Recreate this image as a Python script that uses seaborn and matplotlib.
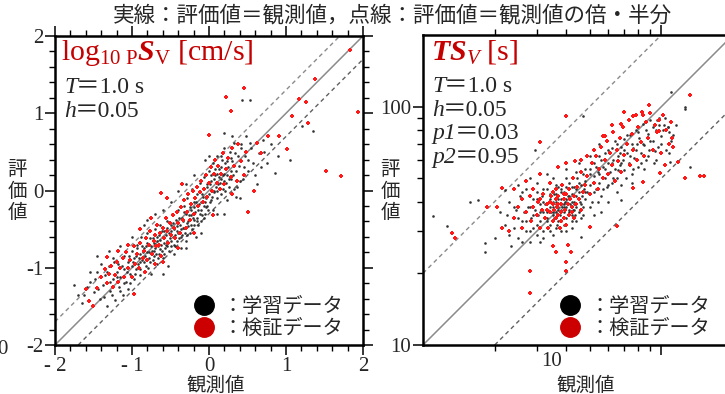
import matplotlib
matplotlib.use("Agg")
import matplotlib.pyplot as plt
from matplotlib.lines import Line2D
import seaborn as sns
import pandas as pd

# ---------------- data ----------------
title_text = "実線：評価値＝観測値，点線：評価値＝観測値の倍・半分"
legend_labels = ["：学習データ", "：検証データ"]
left_xticks = [-2, -1, 0, 1, 2]
left_xticklabels = ["- 2", "- 1", "0", "1", "2"]
left_yticklabels = ["-2", "-1", "0", "1", "2"]
right_yticks = [10, 100]
right_yticklabels = ["10", "100"]
left_params = [("T", "＝1.0 s"), ("h", "＝0.05")]
right_params = [("T", "＝1.0 s"), ("h", "＝0.05"), ("p1", "＝0.03"), ("p2", "＝0.95")]

# left panel: log10 pSv, (observed, predicted)
left_train = [
    (-1.75,-1.22),(-1.62,-1.35),(-1.55,-1.18),(-1.5,-1.32),(-1.45,-1.05),(-1.42,-1.4),(-1.38,-1.22),(-1.35,-1.1),
    (-1.32,-1.5),(-1.3,-0.98),(-1.28,-1.3),(-1.25,-1.15),(-1.22,-1.42),(-1.2,-1.05),(-1.18,-0.95),(-1.17,-1.25),
    (-1.15,-1.12),(-1.12,-1.35),(-1.1,-0.85),(-1.1,-1.02),(-1.08,-1.18),(-1.05,-0.92),(-1.05,-1.28),(-1.03,-1.08),
    (-1.0,-0.78),(-1.0,-0.98),(-0.98,-1.15),(-0.97,-0.88),(-0.95,-1.02),(-0.94,-0.7),(-0.92,-0.95),(-0.9,-1.1),
    (-0.9,-0.82),(-0.88,-0.6),(-0.87,-0.9),(-0.85,-1.05),(-0.85,-0.75),(-0.83,-0.85),(-0.82,-0.98),(-0.8,-0.68),
    (-0.8,-0.55),(-0.78,-0.8),(-0.77,-0.92),(-0.75,-0.72),(-0.75,-1.08),(-0.73,-0.62),(-0.72,-0.85),(-0.7,-0.5),
    (-0.7,-0.75),(-0.68,-0.95),(-0.67,-0.66),(-0.65,-0.58),(-0.65,-0.82),(-0.63,-0.45),(-0.62,-0.7),(-0.6,-0.88),
    (-0.6,-0.6),(-0.58,-0.52),(-0.57,-0.75),(-0.55,-0.4),(-0.55,-0.65),(-0.53,-0.98),(-0.52,-0.55),(-0.5,-0.72),
    (-0.5,-0.45),(-0.48,-0.3),(-0.47,-0.6),(-0.45,-0.82),(-0.45,-0.5),(-0.43,-0.38),(-0.42,-0.65),(-0.4,-0.25),
    (-0.4,-0.55),(-0.38,-0.45),(-0.37,-0.75),(-0.35,-0.35),(-0.35,-0.58),(-0.33,-0.2),(-0.32,-0.48),(-0.3,-0.65),
    (-0.3,-0.3),(-0.28,-0.1),(-0.27,-0.4),(-0.25,-0.55),(-0.25,-0.22),(-0.23,-0.32),(-0.22,0.02),(-0.2,-0.45),
    (-0.2,-0.15),(-0.18,-0.28),(-0.17,-0.6),(-0.15,-0.05),(-0.15,-0.35),(-0.13,-0.18),(-0.12,0.1),(-0.1,-0.25),
    (-0.1,-0.4),(-0.08,-0.08),(-0.07,0.18),(-0.05,-0.15),(-0.05,-0.3),(-0.03,0.05),(-0.02,-0.2),(0.0,0.25),
    (0.0,-0.05),(0.02,-0.12),(0.03,0.12),(0.05,-0.25),(0.05,0.35),(0.07,0.0),(0.08,0.2),(0.1,-0.1),
    (0.1,0.45),(0.12,0.08),(0.13,0.28),(0.15,-0.05),(0.15,0.15),(0.17,0.4),(0.18,0.02),(0.2,0.22),
    (0.2,0.55),(0.22,0.1),(0.23,-0.12),(0.25,0.3),(0.27,0.5),(0.28,0.15),(0.3,0.38),(0.32,0.02),
    (0.33,0.62),(0.35,0.25),(0.38,0.45),(0.4,0.12),(0.42,0.55),(0.45,0.3),(0.48,0.7),(0.5,0.4),
    (0.55,0.55),(0.6,0.2),(0.65,0.48),(0.7,0.65),(0.75,0.35),(0.86,0.23),(1.05,0.39),(1.21,0.83),
    (1.35,0.77),(0.43,1.17),(0.53,1.17),(-0.3,0.08),(-0.5,-0.15),(-0.7,-0.3),(-0.85,-0.45),(-1.0,-0.6),
    (-1.15,-0.72),(-1.25,-0.88),(-1.4,-0.95),(-0.6,-1.08),(0.35,-0.08),(0.2,-0.3),
    (-0.95,-0.85),(-0.9,-0.92),(-0.86,-0.8),(-0.82,-0.72),(-0.78,-0.88),(-0.74,-0.78),(-0.71,-0.68),(-0.69,-0.82),
    (-0.66,-0.72),(-0.64,-0.64),(-0.61,-0.78),(-0.59,-0.68),(-0.56,-0.58),(-0.54,-0.72),(-0.51,-0.62),(-0.49,-0.52),
    (-0.46,-0.7),(-0.44,-0.58),(-0.41,-0.46),(-0.39,-0.62),(-0.36,-0.5),(-0.34,-0.4),(-0.31,-0.55),(-0.29,-0.42),
    (-0.26,-0.32),(-0.24,-0.45),(-0.21,-0.35),(-0.19,-0.22),(-0.16,-0.4),(-0.14,-0.25),(-0.11,-0.15),(-0.09,-0.32),
    (-0.06,-0.2),(-0.04,-0.1),(-0.01,-0.25),(0.01,0.08),(0.04,-0.08),(0.06,0.15),(0.09,0.05),(0.11,0.22),
    (0.14,0.1),(0.16,0.3),(0.19,0.12),(0.21,0.35),(0.24,0.2),(0.26,0.05),(0.29,0.25),
    (-1.65,-1.45),(-1.58,-1.25),(-1.48,-1.15),(-1.44,-1.28),(-1.36,-1.38),(-1.33,-1.05),(-1.29,-1.18),(-1.26,-1.35),
    (-1.23,-0.92),(-1.19,-1.12),(-1.16,-1.3),(-1.13,-0.98),(-1.11,-1.2),(-1.07,-1.05),(-1.04,-0.85),(-1.02,-1.2),
    (-0.99,-0.92),(-0.96,-1.08),(-0.93,-0.75),(-0.91,-0.88),(-0.89,-1.02),(-0.87,-0.72),(-0.84,-0.92),(-0.81,-0.8),
    (-0.79,-1.0),(-0.76,-0.62),(-0.73,-0.9),(-0.71,-0.78),(-0.68,-0.6),(-0.66,-0.88),(-0.63,-0.76),(-0.61,-0.52),
    (-0.58,-0.82),(-0.56,-0.7),(-0.54,-0.48),(-0.52,-0.78),(-0.49,-0.65),(-0.47,-0.42),(-0.44,-0.72),(-0.42,-0.52),
    (-0.39,-0.35),(-0.37,-0.6),(-0.34,-0.48),(-0.32,-0.28),(-0.29,-0.58),(-0.27,-0.46),(-0.24,-0.25),(-0.22,-0.5),
    (-0.19,-0.38),(-0.17,-0.15),(-0.14,-0.45),(-0.12,-0.3),(-0.09,-0.05),(-0.07,-0.35),(-0.04,-0.22),(-0.02,0.08),
    (0.01,-0.15),(0.03,0.2),(0.06,-0.02),(0.08,0.28),(0.11,0.0),(0.13,0.18),(0.16,0.45),(0.18,0.2),
    (0.21,0.0),(0.23,0.38),(0.26,0.15),(0.28,0.42),(0.31,0.2),(0.34,0.48),(0.36,0.05),(0.39,0.32),
    (0.41,0.6),(0.44,0.15),(0.47,0.45),(0.5,0.25),(0.53,0.62),(0.57,0.35),(0.62,0.08),(0.68,0.3),
    (0.72,0.5),(0.8,0.6),(0.9,0.45),(-1.55,-1.05),(-1.7,-1.35),(-0.3,-0.75),(-0.1,-0.55),(0.1,-0.3),
    (0.4,-0.1),(-0.8,-0.38),(-0.6,-0.25),(-0.4,0.0),(-0.2,0.2),(0.0,0.45),(-1.3,-0.78),(-1.45,-0.85),
    (0.3,0.7),(0.2,0.75),(-0.05,0.4),
]
left_test = [
    (-1.56,-1.43),(-1.51,-1.49),(-1.6,-1.28),(-1.45,-1.26),(-1.32,-0.86),(-0.98,-1.34),(-0.62,-0.03),(0.0,0.72),
    (-1.4,-1.12),(-1.35,-1.02),(-1.33,-1.2),(-1.3,-1.08),(-1.27,-0.98),(-1.25,-1.25),(-1.22,-1.1),(-1.2,-0.92),
    (-1.18,-1.18),(-1.15,-1.0),(-1.12,-0.88),(-1.1,-1.12),(-1.08,-0.8),(-1.05,-1.0),(-1.02,-0.9),(-1.0,-1.12),
    (-0.98,-0.72),(-0.96,-0.95),(-0.93,-0.82),(-0.91,-1.0),(-0.89,-0.68),(-0.86,-0.88),(-0.84,-0.78),(-0.82,-0.62),
    (-0.8,-0.9),(-0.78,-0.7),(-0.76,-0.52),(-0.74,-0.82),(-0.72,-0.65),(-0.7,-0.58),(-0.69,-0.72),(-0.67,-0.45),
    (-0.65,-0.7),(-0.63,-0.55),(-0.62,-0.85),(-0.6,-0.48),(-0.58,-0.62),(-0.56,-0.35),(-0.55,-0.52),(-0.53,-0.68),
    (-0.51,-0.42),(-0.49,-0.58),(-0.47,-0.32),(-0.45,-0.48),(-0.44,-0.62),(-0.42,-0.28),(-0.4,-0.42),(-0.38,-0.55),
    (-0.36,-0.22),(-0.34,-0.38),(-0.32,-0.12),(-0.3,-0.48),(-0.28,-0.28),(-0.27,-0.05),(-0.25,-0.38),(-0.23,-0.18),
    (-0.21,0.0),(-0.2,-0.3),(-0.18,-0.1),(-0.16,0.05),(-0.14,-0.2),(-0.12,-0.02),(-0.1,0.12),(-0.08,-0.15),
    (-0.06,0.02),(-0.04,0.2),(-0.02,-0.08),(0.0,0.1),(0.02,0.3),(0.04,0.0),(0.06,0.22),(0.08,0.4),
    (0.1,0.1),(0.12,0.32),(0.14,0.02),(0.16,0.22),(0.18,0.48),(0.2,0.08),(0.22,0.28),(0.25,0.42),
    (0.28,0.18),(0.3,0.55),(0.33,0.32),(0.36,0.12),(0.38,0.6),(0.42,0.38),(0.45,0.2),(0.48,0.5),
    (0.51,-0.28),(0.58,0.0),(0.62,0.62),(0.68,0.48),(0.77,0.7),(0.91,0.7),(1.01,0.54),(1.52,0.25),
    (1.71,0.19),(1.83,1.82),(1.38,1.44),(0.45,1.33),(0.22,1.21),(0.29,1.03),(1.17,1.18),(1.26,1.14),
    (1.93,1.01),(1.08,0.97),(1.29,0.88),(-0.9,-0.5),(-0.75,-0.35),(-0.55,-0.1),(-0.35,0.08),(-0.6,-0.92),
    (-0.4,-0.75),(-0.2,-0.55),(0.05,-0.32),(0.3,-0.05),(-1.18,-0.78),(-1.05,-0.7),(-0.83,-1.05),(-0.7,-0.95),
]

# right panel: TSv [s], (observed, predicted)
right_train = [
    (22.5,35),(23,40),(24,31),(24.5,37),(25,28),(25.5,42),(26,33),(26.5,36),(27,30),(27,45),(27.5,38),(28,27),
    (28.5,34),(29,41),(29,31),(29.5,37),(30,29),(30,44),(30.5,35),(31,39),
    (31,33),(31.5,42),(32,36),(32,30),(32.5,39),(33,34),(33,45),(33.5,37),(34,32),(34,41),(34.5,36),(35,38),
    (35,29),(35.5,34),(35.5,43),(36,40),(36,36),(36.5,32),(37,38),(37,46),(37.5,35),(38,41),(38,33),(38.5,38),
    (39,36),(39,44),(39.5,40),(40,34),(40,38),(40.5,42),(41,36),(41,48),(41.5,39),(42,33),(42,43),(42.5,37),
    (43,40),(43,46),(43.5,35),(44,42),(44,38),(44.5,50),(45,36),(45,44),(45.5,40),(46,47),(46,34),(46.5,42),
    (47,38),(47,52),(47.5,45),(48,41),(48,49),
    (34,38),(35,35),(36,39),(37,33),(37,41),(38,37),(39,39),(40,41),(41,37),(42,40),(33,36),(32,40),
    (36,43),(39,32),(43,37),(44,45),(38,44),(35,40),(40,46),(42,35),
    (49,44),(50,55),(50,47),(51,40),(52,51),(52,58),(53,45),(54,53),(55,48),(55,62),(56,42),(57,56),
    (58,50),(58,64),(59,46),(60,58),(61,53),(62,67),(62,48),(63,60),(64,55),(65,70),(65,50),(66,62),
    (67,57),(68,47),(68,68),(69,60),(70,54),(70,73),
    (72,64),(73,58),(74,76),(75,52),(76,67),(77,61),(78,80),(79,70),(80,56),(81,74),(82,64),(84,85),
    (85,69),(86,60),(88,77),(89,66),(90,88),(92,72),(93,58),(95,80),(97,68),(98,90),(100,75),(103,84),
    (105,66),(108,78),(110,72),(107,82),(126,98),(110,115),(126,100),(132,56),(46.8,91.2),(29.5,66.1),
    (11,34.7),(12.6,31.6),(15.8,39.8),(17,40.7),(18.2,26.9),(18.2,24.5),(22.1,44.7),(31,27),(23.5,26),
    (46,28.5),(68,40.7),(109,58.9),(98,84),(107,82),
    (20,28),(21,36),(22,32),(23,29),(24,38),(25,34),(26,27),(26,44),(27,33),(28,38),(28,30),(29,35),
    (30,41),(30,32),(31,36),(32,28),(32,45),(33,33),(34,43),(34,30),(35,36),(36,31),(36,47),(37,37),
    (38,30),(38,45),(39,38),(40,30),(40,50),(41,42),(42,31),(42,46),(43,39),(44,33),(44,53),(45,48),
    (46,39),(47,35),(48,55),(48,44),(50,38),(50,52),(52,44),(53,56),(54,40),(55,52),(56,60),(57,45),
    (58,55),(60,47),(60,66),(62,58),(63,50),(64,72),(66,54),(67,64),(68,58),(70,66),(71,50),(72,76),
    (74,62),(75,70),(76,55),(78,66),(80,78),(82,58),(84,70),(86,80),(88,62),(90,72),(92,82),(94,65),
    (96,88),(100,70),(102,80),(104,90),(108,64),(112,76),(115,84),(45,58),(50,62),(55,70),(40,55),
    (35,50),(30,48),(28,50),(25,47),(33,52),(60,40),(56,36),(65,44),(75,48),(85,55),(95,60),(52,35),
]
right_test = [
    (13.2,29.5),(13.6,28.2),(18.6,38),(20.4,38),(21.4,45.7),(21.4,30.9),(22.9,30.2),(28.2,20.4),(28.2,16.6),
    (39.8,20.4),(39.8,22.4),(36.3,24.5),(41.7,24.5),(40.7,26.3),(39.8,91.2),(89.1,102),(30.9,70.8),(145,51.3),
    (151,51.3),(126,50.1),(117,58.9),(132,112),(112,68),(111,74),(35,26),(50,31.4),(65,31.6),(76,45.5),
    (84,48.5),(99,52.5),(104,57),
    (24,34),(25,38),(26,31),(27,36),(28,42),(28.5,33),(29,38),(30,35),(30.5,40),(31,31),(31.5,37),(32,43),
    (32.5,34),(33,39),(33.5,31),(34,36),(34.5,42),(35,33),(35,39),(35.5,37),(36,34),(36,45),(36.5,38),(37,35),
    (37,42),(37.5,31),(38,39),(38,36),(38.5,47),(39,34),(39,41),(39.5,37),(40,43),(40,32),(40.5,39),(41,35),
    (41,45),(41.5,41),(42,38),(42.5,50),(43,34),(43,42),(44,39),(44.5,46),(45,41),(46,37),(46,53),(47,44),
    (48,47),(34,40),(36,41),(38,33),(33,37),(37,39),(39,43),(42,36),(35,44),(31,41),(29,45),(26,41),
    (24,45),(27,49),(31,52),(34,48),(37,56),
    (49,51),(50,43),(51,58),(52,48),(53,62),(54,45),(55,55),(56,68),(57,50),(58,60),(59,72),(60,52),
    (61,64),(62,57),(63,78),(64,49),(65,66),(66,59),(67,74),(68,53),(69,82),(70,63),(72,70),(73,88),
    (74,57),(75,77),(76,66),(78,92),(79,60),(80,82),(82,71),(83,95),(85,62),(86,86),(88,74),(90,94),
    (92,66),(94,84),(96,78),(98,88),(100,64),(102,92),(105,80),(108,70),(110,86),(58,75),(52,66),(46,60),
    (70,95),(62,84),(40,58),(43.5,59),(48.6,62),(57,75.5),(68,85),(76,91),(84,92.5),(102,92.5),(98,79),
]

# ---------------- style ----------------
sns.set_style("ticks")
plt.rcParams["font.family"] = ["Noto Sans CJK JP", "DejaVu Sans"]
plt.rcParams["mathtext.fontset"] = "custom"
plt.rcParams["mathtext.rm"] = "Liberation Serif"
plt.rcParams["mathtext.it"] = "Liberation Serif:italic"
plt.rcParams["mathtext.bf"] = "Liberation Serif:bold"
plt.rcParams["mathtext.bfit"] = "Liberation Serif:italic:bold"

SERIF = ["Liberation Serif", "Noto Sans CJK JP", "DejaVu Serif"]
CJK = ["Noto Sans CJK JP", "DejaVu Sans"]
DARKRED = "#c40000"
PT_RED = "#ff1a1a"
PT_BLK = "#333333"
LINE_GRAY = "#8a8a8a"

fig = plt.figure(figsize=(7.25, 3.94), dpi=100)
axL = fig.add_axes([55/725, 49/394, 308/725, 309/394])
axR = fig.add_axes([423/725, 49/394, 310/725, 310/394])


def to_df(pairs, group):
    return pd.DataFrame({"obs": [p[0] for p in pairs],
                         "pred": [p[1] for p in pairs],
                         "group": group})


dfL = pd.concat([to_df(left_train, "train"), to_df(left_test, "test")])
dfR = pd.concat([to_df(right_train, "train"), to_df(right_test, "test")])

for ax, df in ((axL, dfL), (axR, dfR)):
    sns.scatterplot(data=df[df.group == "train"], x="obs", y="pred", ax=ax,
                    color=PT_BLK, s=3.5, linewidth=0, marker="o", legend=False, zorder=3)
    sns.scatterplot(data=df[df.group == "test"], x="obs", y="pred", ax=ax,
                    color=PT_RED, s=5, linewidth=0, marker="P", legend=False, zorder=4)

# reference lines
lim = [-2, 2]
axL.plot(lim, lim, color=LINE_GRAY, lw=1.1, zorder=2)
axL.plot([-2, 2 - 0.301], [-2 + 0.301, 2], color=LINE_GRAY, lw=1.0, ls=(0, (3, 2.5)), zorder=2)
axL.plot([-2 + 0.301, 2], [-2, 2 - 0.301], color="#606060", lw=1.0, ls=(0, (3, 2.5)), zorder=2)
axL.set_xlim(-2, 2)
axL.set_ylim(-2, 2)

rl = [10, 200]
axR.set_xscale("log")
axR.set_yscale("log")
axR.plot(rl, rl, color=LINE_GRAY, lw=1.1, zorder=2)
axR.plot([10, 100], [20, 200], color=LINE_GRAY, lw=1.0, ls=(0, (3, 2.5)), zorder=2)
axR.plot([20, 200], [10, 100], color="#606060", lw=1.0, ls=(0, (3, 2.5)), zorder=2)
axR.set_xlim(10, 200)
axR.set_ylim(10, 200)

# ticks / spines
for ax in (axL, axR):
    for sp in ax.spines.values():
        sp.set_visible(True)
        sp.set_linewidth(1.8)
        sp.set_color("black")
    ax.tick_params(which="both", direction="out", top=True, right=True, color="black",
                   labelsize=15, pad=1.5)
    ax.tick_params(which="major", length=7, width=1.1)
    ax.tick_params(which="minor", length=4.5, width=1.0)
    ax.set_xlabel("")
    ax.set_ylabel("")

minorL = [-1.8, -1.6, -1.4, -1.2, -0.8, -0.6, -0.4, -0.2, 0.2, 0.4, 0.6, 0.8,
          1.2, 1.4, 1.6, 1.8]
axL.set_xticks(left_xticks)
axL.set_xticklabels(left_xticklabels, fontfamily=SERIF)
axL.set_yticks(left_xticks)
axL.set_yticklabels(left_yticklabels, fontfamily=SERIF)
axL.set_xticks(minorL, minor=True)
axL.set_yticks(minorL, minor=True)

axR.set_yticks(right_yticks)
axR.set_yticklabels(right_yticklabels, fontfamily=SERIF)
axR.set_yticks([20, 30, 40, 50, 60, 70, 80, 90], minor=True)
axR.set_yticklabels([], minor=True)
axR.set_xticks([100])
axR.set_xticklabels([""])
axR.set_xticks([20, 30, 40, 50, 60, 70, 80, 90], minor=True)
axR.set_xticklabels([], minor=True)
# the stray "10" label printed under the right panel
fig.text(552/725, 1 - 362/394, "10", fontfamily=SERIF, fontsize=15, ha="center", va="center")

# panel titles and parameters
axL.text(0.02, 0.997, r"$\mathrm{log}_{\mathrm{10\ P}}\mathbfit{S}_{\mathrm{V}}\ [\mathrm{cm/s}]$",
         transform=axL.transAxes, color=DARKRED, fontsize=21.5, va="top", ha="left")
axR.text(0.025, 0.997, r"$\mathbfit{TS}_{\mathit{V}}\ [\mathrm{s}]$",
         transform=axR.transAxes, color=DARKRED, fontsize=21.5, va="top", ha="left")


def param_lines(ax, items, x0, y0, dy):
    for i, (sym, rest) in enumerate(items):
        t = ax.text(x0, y0 - i * dy, sym, transform=ax.transAxes, fontsize=17,
                    fontfamily=SERIF, style="italic", va="bottom", ha="left")
        ax.annotate(rest, xy=(1, 0), xycoords=t, xytext=(-1, 0), textcoords="offset points",
                    fontsize=17, fontfamily=SERIF, va="bottom", ha="left")


param_lines(axL, left_params, 0.03, 0.8, 0.078)
param_lines(axR, right_params, 0.03, 0.8, 0.076)

# axis labels
fig.text(17/725, 1 - 191/394, "評\n価\n値", fontfamily=CJK, fontsize=14, ha="center",
         va="center", linespacing=1.05)
fig.text(390/725, 1 - 191/394, "評\n価\n値", fontfamily=CJK, fontsize=14, ha="center",
         va="center", linespacing=1.05)
fig.text(216/725, 1 - 385/394, "観測値", fontfamily=CJK, fontsize=14, ha="center", va="center")
fig.text(586/725, 1 - 385/394, "観測値", fontfamily=CJK, fontsize=14, ha="center", va="center")
fig.text(2/725, 1 - 349/394, "0", fontfamily=SERIF, fontsize=15, ha="center", va="center")

# legends
handles = [Line2D([], [], marker="o", ls="", ms=14, color="black"),
           Line2D([], [], marker="o", ls="", ms=14, color="#cc0000")]
for ax, x0 in ((axL, 0.45), (axR, 0.443)):
    ax.legend(handles, legend_labels, loc="lower left", bbox_to_anchor=(x0, 0.02),
              frameon=False, prop={"family": CJK, "size": 14.5}, handlelength=1.0,
              handletextpad=0.45, labelspacing=0.05, borderpad=0, borderaxespad=0)

fig.text(392/725, 1 - 15/394, title_text, fontfamily=CJK, fontsize=15.5, ha="center", va="center")

fig.savefig("out.png", dpi=100)
